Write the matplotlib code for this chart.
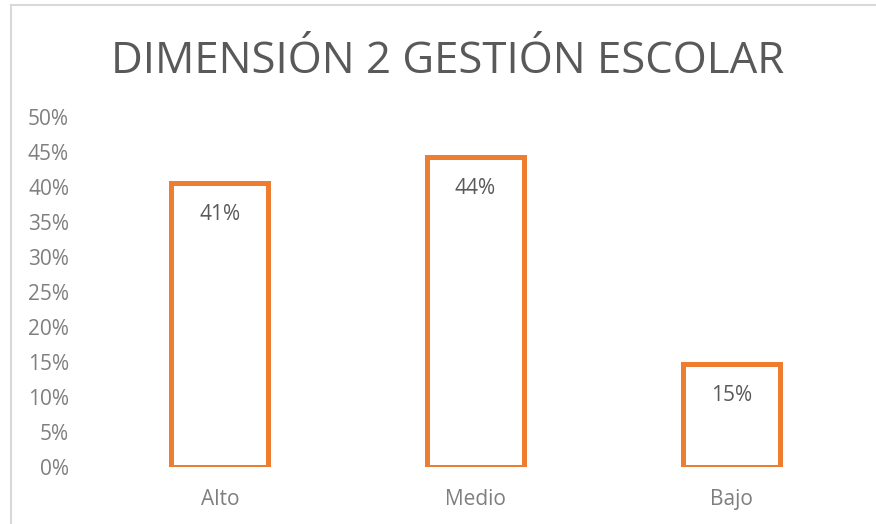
import matplotlib
matplotlib.use("Agg")
import matplotlib.pyplot as plt
import matplotlib.ticker as ticker
from matplotlib.lines import Line2D

ORANGE = "#ED7D31"
TEXT_DARK = "#595959"
TEXT_GRAY = "#7F7F7F"

categories = ["Alto", "Medio", "Bajo"]
values = [0.406, 0.443, 0.147]
y_ticks = [0.0, 0.05, 0.10, 0.15, 0.20, 0.25, 0.30, 0.35, 0.40, 0.45, 0.50]

plt.rcParams["font.family"] = ["Open Sans", "DejaVu Sans"]

fig = plt.figure(figsize=(8.76, 5.24), dpi=100)
ax = fig.add_axes([92 / 876, 57 / 524, 767 / 876, 350 / 524])

x = list(range(len(categories)))
ax.bar(x, values, width=0.38, facecolor="white", edgecolor=ORANGE,
       linewidth=3.6)

# Value labels inside the bars, near the top
for xi, v in zip(x, values):
    ax.annotate(f"{v:.0%}", (xi, v), textcoords="offset points",
                xytext=(0, -22.5), ha="center", va="center",
                fontsize=15, color=TEXT_DARK)

ax.set_xlim(-0.5, len(categories) - 0.5)
ax.set_ylim(0, 0.5)
ax.set_xticks(x)
ax.set_xticklabels(categories)
ax.set_yticks(y_ticks)
ax.yaxis.set_major_formatter(ticker.FuncFormatter(lambda v, _: f"{v:.0%}"))
ax.tick_params(axis="both", length=0, labelsize=15, colors=TEXT_GRAY)
ax.tick_params(axis="y", pad=16.5)
ax.tick_params(axis="x", pad=16)
for s in ax.spines.values():
    s.set_visible(False)

fig.text(0.5 + 10 / 876, 1 - 73 / 524, "DIMENSIÓN 2 GESTIÓN ESCOLAR",
         ha="center", va="baseline", fontsize=31.5, color=TEXT_DARK)

# Chart frame (top and left edges visible)
fig.add_artist(Line2D([11 / 876, 11 / 876], [0, 1 - 5 / 524],
                      transform=fig.transFigure, color="#D9D9D9", lw=1.5))
fig.add_artist(Line2D([11 / 876, 1], [1 - 5 / 524, 1 - 5 / 524],
                      transform=fig.transFigure, color="#D9D9D9", lw=1.5))

fig.savefig("out.png", dpi=100)
